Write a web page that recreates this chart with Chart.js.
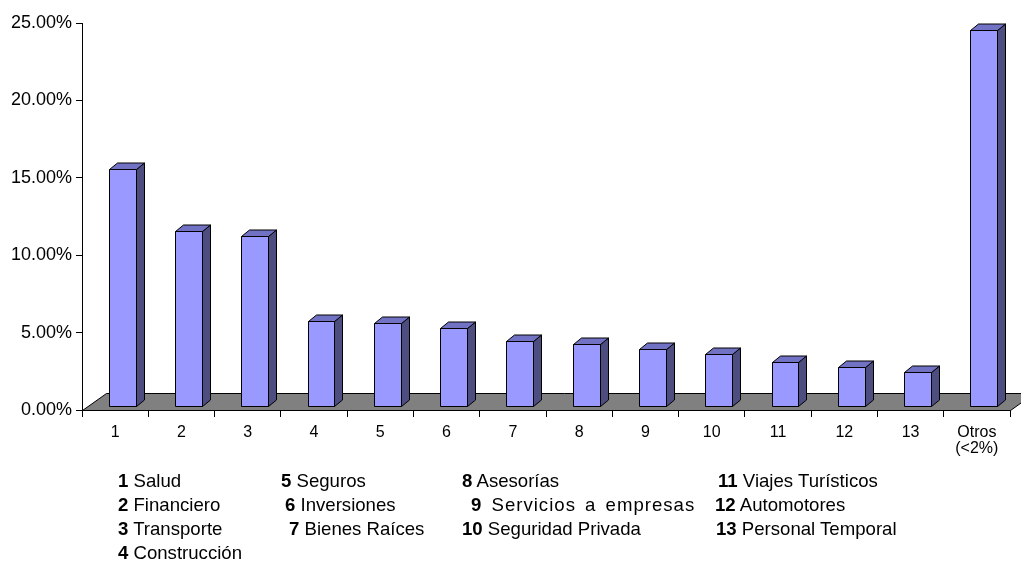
<!DOCTYPE html>
<html lang="es">
<head>
<meta charset="utf-8">
<title>Participación por sector</title>
<script src="https://cdn.jsdelivr.net/npm/chart.js@4.4.1/dist/chart.umd.min.js"></script>
<style>
  html, body { margin: 0; padding: 0; background: #fff; }
  #wrap { position: relative; width: 1021px; height: 561px; overflow: hidden; }
  #chart { position: absolute; left: 0; top: 0; }
  .key { position: absolute; font-family: 'Liberation Sans', Arial, sans-serif; font-size: 18.6px;
         line-height: 22px; color: #000; white-space: pre; }
  .key b { font-weight: bold; }
  .key.wide { letter-spacing: 1px; word-spacing: 3px; }
</style>
</head>
<body>
<div id="wrap">
  <canvas id="chart" width="1021" height="561"></canvas>
</div>
<script>
// Sector codes on the category axis (last one groups the small sectors)
const categories = ['1', '2', '3', '4', '5', '6', '7', '8', '9', '10', '11', '12', '13', ['Otros', '(<2%)']];
// Share of each sector, in percent
const shares = [15.30, 11.29, 10.99, 5.50, 5.33, 5.01, 4.17, 3.99, 3.67, 3.33, 2.85, 2.49, 2.16, 24.26];
// Value axis range and tick step (percent)
const axisMax = 25;
const axisStep = 5;
// Key below the chart: sector code and sector name
const keyNumbers = ['1', '2', '3', '4', '5', '6', '7', '8', '9', '10', '11', '12', '13'];
const keyNames = ['Salud', 'Financiero', 'Transporte', 'Construcción', 'Seguros', 'Inversiones',
  'Bienes Raíces', 'Asesorías', 'Servicios a empresas', 'Seguridad Privada',
  'Viajes Turísticos', 'Automotores', 'Personal Temporal'];

// Where each key entry sits (left edge, vertical centre)
const keyLayout = [
  [118, 481], [118, 505], [118, 529], [118, 553],
  [281, 481], [285, 505], [289, 529],
  [462, 481], [471, 505], [462, 529],
  [718, 481], [715, 505], [716, 529]
];
// Entries set a little wider than the rest
const keyWide = [8];

const FONT = "'Liberation Sans', Arial, sans-serif";

// Pseudo-3D geometry: floor depth and bar depth offsets (pixels)
const FLOOR_DX = 24, FLOOR_DY = 17;
const FRONT_DX = 7, FRONT_DY = 4.3;
const BAR_DX = 8, BAR_DY = 6.5;

const COLORS = {
  front: '#9999FF',
  top: '#7272C4',
  side: '#4D4D80',
  floor: '#808080',
  edge: '#000000'
};

function poly(ctx, pts, fill) {
  ctx.beginPath();
  ctx.moveTo(pts[0][0], pts[0][1]);
  for (let i = 1; i < pts.length; i++) ctx.lineTo(pts[i][0], pts[i][1]);
  ctx.closePath();
  ctx.fillStyle = fill;
  ctx.fill();
  ctx.stroke();
}

const px = v => Math.round(v) + 0.5;

const box3d = {
  id: 'box3d',
  beforeDatasetsDraw(chart) {
    const { ctx, chartArea } = chart;
    const l = px(chartArea.left), r = px(chartArea.right), b = px(chartArea.bottom);
    ctx.save();
    ctx.lineWidth = 1;
    ctx.strokeStyle = COLORS.edge;
    poly(ctx, [[l, b], [r, b], [r + FLOOR_DX, b - FLOOR_DY], [l + FLOOR_DX, b - FLOOR_DY]], COLORS.floor);
    ctx.restore();
  },
  afterDatasetsDraw(chart) {
    const { ctx } = chart;
    const yScale = chart.scales.y;
    const meta = chart.getDatasetMeta(0);
    const values = chart.data.datasets[0].data;
    ctx.save();
    ctx.lineWidth = 1;
    ctx.strokeStyle = COLORS.edge;
    ctx.lineJoin = 'miter';
    meta.data.forEach((bar, i) => {
      const left = px(bar.x - bar.width / 2 + FRONT_DX);
      const right = px(bar.x + bar.width / 2 + FRONT_DX);
      const top = px(yScale.getPixelForValue(values[i]) - FRONT_DY);
      const base = px(yScale.getPixelForValue(0) - FRONT_DY);
      const dx = BAR_DX, dy = BAR_DY;
      // side face
      poly(ctx, [[right, top], [right + dx, top - dy], [right + dx, base - dy], [right, base]], COLORS.side);
      // top face
      poly(ctx, [[left, top], [left + dx, top - dy], [right + dx, top - dy], [right, top]], COLORS.top);
      // front face
      poly(ctx, [[left, top], [right, top], [right, base], [left, base]], COLORS.front);
    });
    ctx.restore();
  }
};

new Chart(document.getElementById('chart'), {
  type: 'bar',
  data: {
    labels: categories,
    datasets: [{
      data: shares,
      backgroundColor: 'rgba(0,0,0,0)',
      borderWidth: 0,
      categoryPercentage: 1,
      barPercentage: 0.407
    }]
  },
  options: {
    responsive: false,
    animation: false,
    events: [],
    layout: { padding: { top: 23, right: 11, left: 0, bottom: 0 } },
    plugins: { legend: { display: false }, tooltip: { enabled: false } },
    scales: {
      x: {
        grid: { offset: true, drawOnChartArea: false, drawTicks: true, tickLength: 7, color: '#000', lineWidth: 1 },
        border: { display: true, color: '#000', width: 1 },
        ticks: { color: '#000', font: { family: FONT, size: 16, lineHeight: 1.0 }, padding: 8, maxRotation: 0, autoSkip: false },
        afterFit(scale) { scale.height = 151; }
      },
      y: {
        min: 0,
        max: axisMax,
        grid: { drawOnChartArea: false, drawTicks: true, tickLength: 6, color: '#000', lineWidth: 1 },
        border: { display: true, color: '#000', width: 1 },
        ticks: {
          stepSize: axisStep,
          color: '#000',
          padding: 4,
          font: { family: FONT, size: 18 },
          callback: v => v.toFixed(2) + '%'
        },
        afterFit(scale) { scale.width = 82; }
      }
    }
  },
  plugins: [box3d]
});

// Key of sector names below the chart
const wrap = document.getElementById('wrap');
keyNumbers.forEach((num, i) => {
  const el = document.createElement('div');
  el.className = keyWide.includes(i) ? 'key wide' : 'key';
  el.style.left = keyLayout[i][0] + 'px';
  el.style.top = (keyLayout[i][1] - 11) + 'px';
  const b = document.createElement('b');
  b.textContent = num;
  el.appendChild(b);
  el.appendChild(document.createTextNode(' ' + keyNames[i]));
  wrap.appendChild(el);
});
</script>
</body>
</html>
